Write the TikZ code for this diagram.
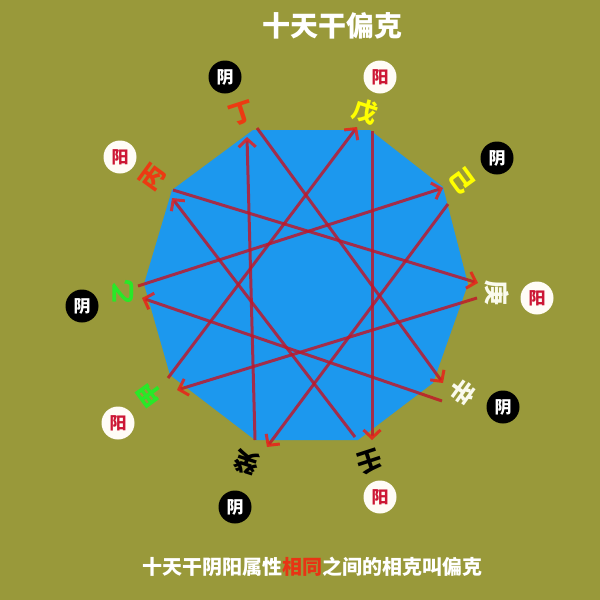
\documentclass[tikz,border=0pt]{standalone}
\usepackage{fontspec}
\setmainfont{Noto Sans CJK SC}
\usepackage{xcolor}
\usepackage{tikz}
\usetikzlibrary{arrows.meta}

\definecolor{bgolive}{RGB}{153,153,58}
\definecolor{decablue}{RGB}{28,152,238}
\definecolor{kered}{RGB}{192,22,40}
\definecolor{tipred}{RGB}{236,28,24}
\definecolor{stemred}{RGB}{236,58,18}
\definecolor{stemgreen}{RGB}{40,232,40}
\definecolor{stemyellow}{RGB}{255,255,0}
\definecolor{stemwhite}{RGB}{250,250,236}
\definecolor{yangred}{RGB}{204,22,52}
\definecolor{yangwhite}{RGB}{255,252,246}
\definecolor{capred}{RGB}{232,52,20}

\begin{document}
\begin{tikzpicture}[x=1pt, y=-1pt, line width=3pt,
    stem/.style={font=\bfseries\fontsize{25}{25}\selectfont, inner sep=0pt},
    yang/.style={circle, fill=yangwhite, text=yangred, inner sep=0pt,
        minimum size=33pt, font=\bfseries\fontsize{17}{17}\selectfont},
    yin/.style={circle, fill=black, text=white, inner sep=0pt,
        minimum size=33pt, font=\bfseries\fontsize{17}{17}\selectfont},
    ke/.style={draw=kered, draw opacity=0.82,
        -{Straight Barb[length=8pt, width=17pt, color=tipred]}}]
        \fill[bgolive] (0,0) rectangle (600,600);

        % decagon
        \fill[decablue] (170,375) -- (144,284) -- (172,190) -- (253,130)
            -- (370,130) -- (443,187) -- (468,284) -- (433,383)
            -- (358,440) -- (255,440) -- cycle;

        \node[font=\bfseries\fontsize{28}{28}\selectfont, text=white] (title)
            at (332,26) {十天干偏克};

        \node[stem, text=stemgreen, rotate=126] (jia) at (150,395) {甲};
        \node[stem, text=stemgreen, rotate=90] (yi) at (123,292) {乙};
        \node[stem, text=stemred, rotate=54] (bing) at (153,177) {丙};
        \node[stem, text=stemred, rotate=18] (ding) at (242,113) {丁};
        \node[stem, text=stemyellow, rotate=-18] (wu) at (365,112) {戊};
        \node[stem, text=stemyellow, rotate=-54] (ji) at (462,180) {己};
        \node[stem, text=stemwhite, rotate=-90] (geng) at (497,293) {庚};
        \node[stem, text=stemwhite, rotate=-126] (xin) at (463,392) {辛};
        \node[stem, text=black, rotate=-162] (ren) at (370,462) {壬};
        \node[stem, text=black, rotate=162] (gui) at (247,463) {癸};

        \node[yang] (p0) at (118,423) {阳};
        \node[yin] (p1) at (82,306) {阴};
        \node[yang] (p2) at (120,157) {阳};
        \node[yin] (p3) at (225,77) {阴};
        \node[yang] (p4) at (380,77) {阳};
        \node[yin] (p5) at (497,158) {阴};
        \node[yang] (p6) at (537,298) {阳};
        \node[yin] (p7) at (503,407) {阴};
        \node[yang] (p8) at (380,497) {阳};
        \node[yin] (p9) at (235,507) {阴};

        % line starts
        \coordinate (a0) at (168,378);
        \coordinate (a1) at (138,286);
        \coordinate (a2) at (173,190);
        \coordinate (a3) at (257,128);
        \coordinate (a4) at (372,131);
        \coordinate (a5) at (448,204);
        \coordinate (a6) at (477,298);
        \coordinate (a7) at (442,401);
        \coordinate (a8) at (355,437);
        \coordinate (a9) at (255,440);
        % arrow tips
        \coordinate (b0) at (177,390);
        \coordinate (b1) at (142,298);
        \coordinate (b2) at (172,198);
        \coordinate (b3) at (247,137);
        \coordinate (b4) at (357,127);
        \coordinate (b5) at (443,188);
        \coordinate (b6) at (478,283);
        \coordinate (b7) at (443,383);
        \coordinate (b8) at (372,440);
        \coordinate (b9) at (267,447);

        \path (a0) edge[ke] (b4);
        \path (a1) edge[ke] (b5);
        \path (a2) edge[ke] (b6);
        \path (a3) edge[ke] (b7);
        \path (a4) edge[ke] (b8);
        \path (a5) edge[ke] (b9);
        \path (a6) edge[ke] (b0);
        \path (a7) edge[ke] (b1);
        \path (a8) edge[ke] (b2);
        \path (a9) edge[ke] (b3);

        \node[font=\bfseries\fontsize{20}{20}\selectfont, text=white] (caption)
            at (312,567) {十天干阴阳属性\textcolor{capred}{相同}之间的相克叫偏克};
    \end{tikzpicture}
\end{document}
